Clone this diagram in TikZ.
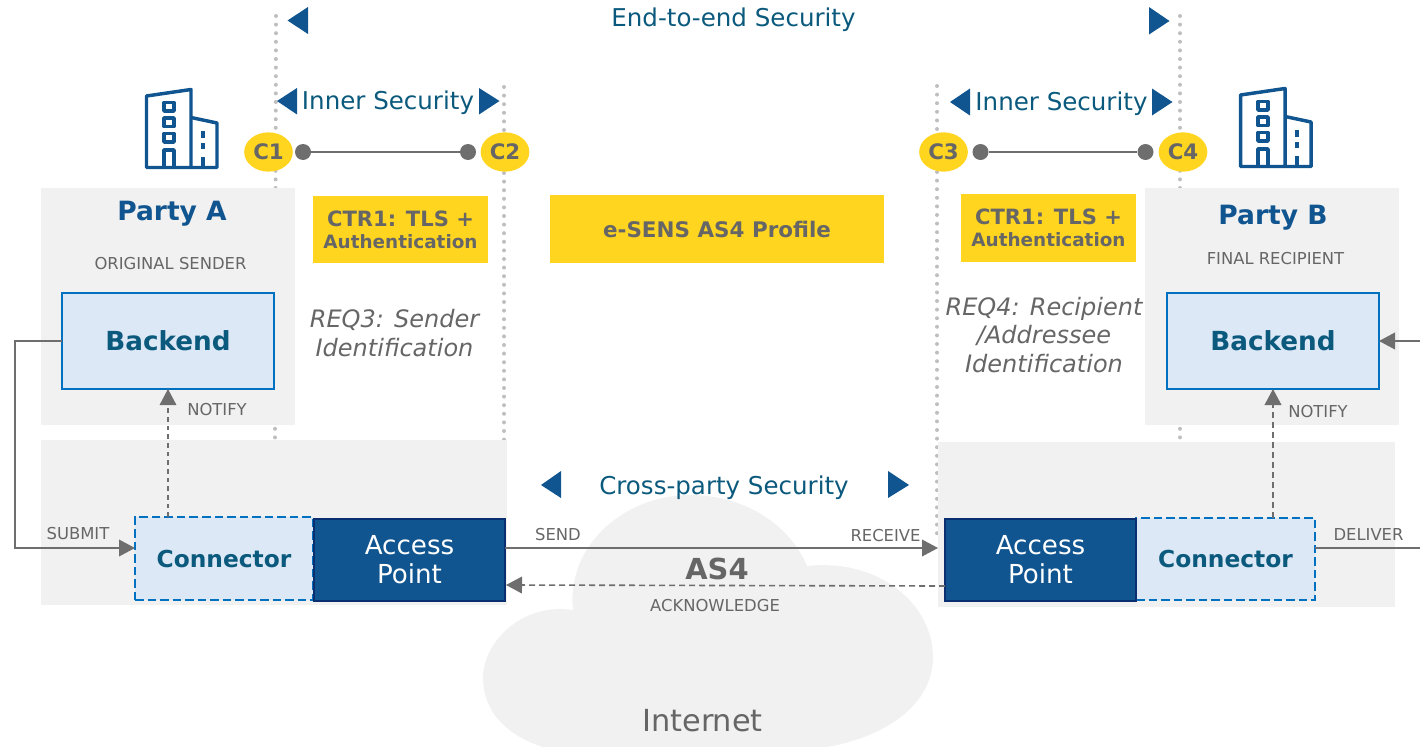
\documentclass[tikz,border=0pt]{standalone}
\usepackage{fontspec}
\setmainfont{DejaVu Sans}
\usetikzlibrary{arrows.meta,shapes.geometric}
\definecolor{pgrey}{HTML}{F1F1F1}
\definecolor{txt}{HTML}{666666}
\definecolor{lineg}{HTML}{6E6E6E}
\definecolor{dots}{HTML}{BFBFBF}
\definecolor{dblue}{HTML}{10558F}
\definecolor{teal}{HTML}{0B5A7D}
\definecolor{yell}{HTML}{FFD520}
\definecolor{pale}{HTML}{DCE8F5}
\definecolor{bord}{HTML}{0070C0}
\definecolor{navy}{HTML}{0A2F70}
\newcommand{\fz}[1]{\fontsize{#1}{#1}\selectfont}
\tikzset{
  px/.style={x=0.75pt,y=-0.75pt},
  box/.style n args={2}{minimum width=#1*0.75pt,minimum height=#2*0.75pt,inner sep=0pt,outer sep=0pt},
  greybox/.style={fill=pgrey},
  dotline/.style={draw=dots,line width=3pt,line cap=round,dash pattern=on 0pt off 6.45pt},
  yellowbox/.style={fill=yell,text=txt,font=\bfseries\fz{15.8},align=center},
  backend/.style={fill=pale,draw=bord,line width=2.1pt,text=teal,font=\bfseries\fz{19.7}},
  connbox/.style={fill=pale,draw=bord,line width=2.1pt,dash pattern=on 6.4pt off 3pt,text=teal,font=\bfseries\fz{17.5}},
  apbox/.style={fill=dblue,draw=navy,line width=1.7pt,text=white,font=\fz{19.6},align=center},
  secur/.style={text=teal,font=\fz{18.4},inner sep=0pt},
  small/.style={text=txt,font=\fz{12.3},inner sep=0pt},
  req/.style={text=txt,font=\itshape\fz{18},align=center,inner sep=0pt},
  party/.style={text=dblue,font=\bfseries\fz{19.9},inner sep=0pt},
  cbadge/.style={fill=yell,ellipse,text=txt,font=\bfseries\fz{16},minimum width=36.5pt,minimum height=29.5pt,inner sep=0pt},
  enddot/.style={fill=lineg,circle,minimum size=12pt,inner sep=0pt},
  conn/.style={draw=lineg,line width=1.2pt},
  arr/.style={conn,-{Triangle[length=12pt,width=12.5pt]}},
  darr/.style={arr,dash pattern=on 4.5pt off 3pt},
  tri/.style={fill=dblue},
  bicon/.style={draw=dblue,line width=2.6pt,line join=round}
}
\begin{document}
\begin{tikzpicture}[px]
\useasboundingbox (0,0) rectangle (1420,746);
% dotted guides
\draw[dotline] (276,16) -- (275,440);
\draw[dotline] (504,87) -- (504,440);
\draw[dotline] (937,86) -- (937,540);
\draw[dotline] (1180,16) -- (1180,440);
% grey panels
\node[greybox,box={254}{237}] (panelA) at (168,306.5) {};
\node[greybox,box={254}{237}] (panelB) at (1272,306.5) {};
\node[greybox,box={466}{165}] (panelC) at (274,522.5) {};
\node[greybox,box={457}{165}] (panelD) at (1166.5,524.5) {};
% cloud
\begin{scope}
\clip (0,0) rectangle (1420,746);
\fill[pgrey] (573,610)
 .. controls (566,545) and (625,495) .. (690,495)
 .. controls (745,495) and (790,525) .. (807,566)
 .. controls (880,558) and (933,605) .. (933,657)
 .. controls (933,705) and (885,737) .. (827,747)
 -- (543,747)
 .. controls (505,735) and (483,710) .. (483,678)
 .. controls (483,640) and (525,602) .. (573,610) -- cycle;
\end{scope}
% security arrows
\fill[tri] (287.5,20.5) -- (308,7) -- (308,34) -- cycle;
\fill[tri] (1169.5,21) -- (1149,7) -- (1149,34.5) -- cycle;
\fill[tri] (277,101) -- (297,88) -- (297,114.5) -- cycle;
\fill[tri] (499.5,101) -- (479,88) -- (479,114.5) -- cycle;
\fill[tri] (950,102) -- (970,88.5) -- (970,115.5) -- cycle;
\fill[tri] (1172.5,102) -- (1152,88.5) -- (1152,115.5) -- cycle;
\fill[tri] (541,485) -- (561,471) -- (561,498) -- cycle;
\fill[tri] (909,485) -- (888,471) -- (888,498) -- cycle;
\node[secur] (e2e) at (733.5,19.5) {End-to-end Security};
\node[secur] (innerA) at (388,102.5) {Inner Security};
\node[secur] (innerB) at (1061.5,103.5) {Inner Security};
\node[secur] (cross) at (724,487.5) {Cross-party Security};
% badges
\node[cbadge] (c1) at (268.5,152) {C1};
\node[cbadge] (c2) at (505,152) {C2};
\node[cbadge] (c3) at (943.5,152) {C3};
\node[cbadge] (c4) at (1183,152) {C4};
\node[enddot] (d1) at (303,152) {};
\node[enddot] (d2) at (468,152) {};
\node[enddot] (d3) at (980.5,152) {};
\node[enddot] (d4) at (1145.5,152) {};
\draw[conn] (d1) -- (d2);
\draw[conn] (d3) -- (d4);
% yellow boxes
\node[yellowbox,box={175}{67}] (ctrA) at (400.5,229.5) {\raisebox{-1pt}{CTR1: TLS +}\\[1.5pt]{\fz{13.8}Authentication}};
\node[yellowbox,box={175}{68}] (ctrB) at (1048.5,228) {\raisebox{-1pt}{CTR1: TLS +}\\[1.5pt]{\fz{13.8}Authentication}};
\node[yellowbox,box={334}{68},font=\bfseries\fz{16.1}] (esens) at (717,229) {e-SENS AS4 Profile};
% party texts
\node[party] (pa) at (172,213.5) {Party A};
\node[party] (pb) at (1273,217.5) {Party B};
\node[small] (os) at (170.5,264) {ORIGINAL SENDER};
\node[small] (fr) at (1275.5,259) {FINAL RECIPIENT};
\node[req] (req3) at (394.5,333) {REQ3: Sender\\[3.4pt]Identification};
\node[req] (req4) at (1044,335) {REQ4: Recipient\\[3.4pt]/Addressee\\[3.4pt]Identification};
% boxes
\node[backend,box={212}{96}] (backA) at (168,341) {Backend};
\node[backend,box={212}{96}] (backB) at (1273,341) {Backend};
\node[connbox,box={178}{83}] (connA) at (224,558.5) {Connector};
\node[connbox,box={179}{82}] (connB) at (1225.5,559) {Connector};
\node[apbox,box={191}{82}] (apA) at (409.5,560) {Access\\[2.2pt]Point};
\node[apbox,box={191}{82}] (apB) at (1040.5,560) {Access\\[2.2pt]Point};
% connectors
\coordinate (subIn) at (135,548);
\coordinate (sendOut) at (505,548);
\coordinate (recvIn) at (938,548);
\coordinate (delOut) at (1315,548);
\coordinate (delEnd) at (1420,548);
\coordinate (rightIn) at (1420,341);
\coordinate (ackOut) at (945,586);
\coordinate (ackIn) at (506,585);
\coordinate (leftX) at (15,341);
\draw[arr] (backA.west) -- (leftX) |- (subIn);
\draw[darr,line width=0.8pt,dash pattern=on 3.5pt off 3pt] (backA.south |- connA.north) -- (backA.south);
\draw[darr] (backB.south |- connB.north) -- (backB.south);
\draw[arr] (sendOut) -- (recvIn);
\draw[darr] (ackOut) -- (ackIn);
\draw[conn] (delOut) -- (delEnd);
\draw[arr] (rightIn) -- (backB.east);
% labels
\node[small] (lsub) at (78,534) {SUBMIT};
\node[small] (lsend) at (558,534.5) {SEND};
\node[small] (lrecv) at (885.5,535.5) {RECEIVE};
\node[small] (ldel) at (1368.5,534.5) {DELIVER};
\node[small] (ln1) at (217,410) {NOTIFY};
\node[small] (ln2) at (1318,412) {NOTIFY};
\node[small] (lack) at (715,606) {ACKNOWLEDGE};
\node[text=txt,font=\bfseries\fz{21.7},inner sep=0pt] (as4) at (717,568.5) {AS4};
\node[text=txt,font=\fz{22.8},inner sep=0pt] (net) at (702.5,720.5) {Internet};
% buildings
\foreach \dx/\dy in {0/0,1094/-1}{
\begin{scope}[shift={(\dx,\dy)}]
\draw[bicon] (146.5,96) -- (191,89.5) -- (191,167.5) -- (146.5,167.5) -- cycle;
\draw[bicon] (191,117.5) -- (217,123) -- (217,167.5) -- (191,167.5);
\draw[bicon] (164,102.5) rectangle (174,111);
\draw[bicon] (164,118) rectangle (174,126.5);
\draw[bicon] (164,133.5) rectangle (174,142);
\draw[bicon] (164,167) -- (164,150) -- (174,150) -- (174,167);
\draw[bicon] (203,131) -- (203,138);
\draw[bicon] (203,143) -- (203,149);
\draw[bicon] (203,157) -- (203,167);
\end{scope}}
\end{tikzpicture}
\end{document}
